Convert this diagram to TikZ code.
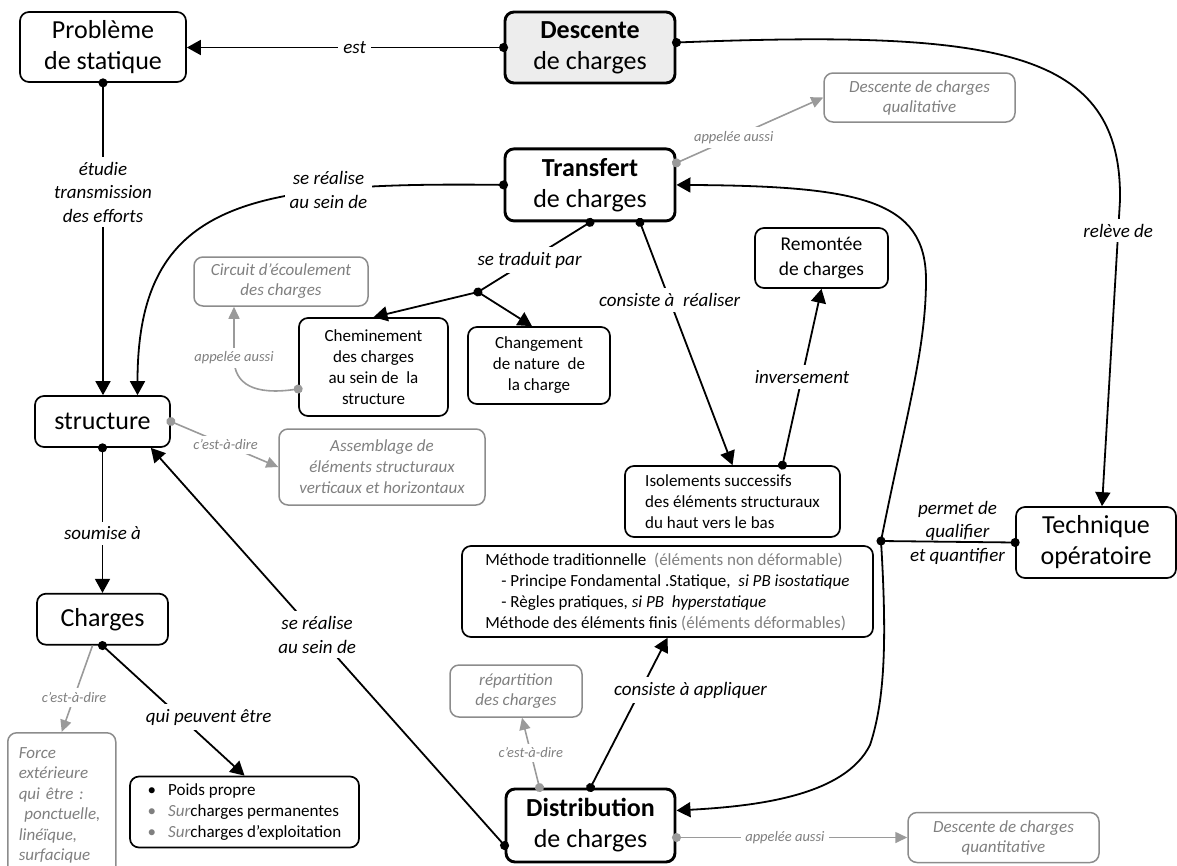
\documentclass[tikz,border=0pt]{standalone}
\usepackage{fontspec}
\setmainfont{Carlito}
\usepackage{xcolor}
\usetikzlibrary{arrows.meta,positioning}

\definecolor{txtgrey}{HTML}{7F7F7F}
\definecolor{boxgrey}{HTML}{8C8C8C}
\definecolor{arrgrey}{HTML}{9A9A9A}
\definecolor{keyfill}{HTML}{EDEDED}

\tikzset{
  >={Triangle[length=14pt,width=15pt]},
  box/.style={draw, rounded corners=9pt, line width=1.7pt, align=center,
    inner sep=2pt, font=\fontsize{17}{21}\selectfont},
  bigbox/.style={box, font=\fontsize{26}{31}\selectfont},
  keybox/.style={bigbox, line width=2.9pt},
  greybox/.style={box, draw=boxgrey, text=txtgrey, line width=1.5pt,
    font=\itshape\fontsize{17}{20}\selectfont},
  lbl/.style={fill=white, inner sep=5pt, align=center,
    font=\itshape\fontsize{19}{23.5}\selectfont},
  glbl/.style={lbl, inner sep=4pt, text=txtgrey,
    font=\itshape\fontsize{14.5}{17}\selectfont},
  conn/.style={line width=1.8pt, ->},
  link/.style={conn, {Circle[length=9pt]}->, shorten <=-4.5pt},
  bond/.style={conn, {Circle[length=9pt]}-{Circle[length=9pt]},
    shorten <=-4.5pt, shorten >=-4.5pt},
  gconn/.style={line width=1.6pt, color=arrgrey,
    -{Triangle[length=12pt,width=11pt]}},
  glink/.style={gconn, {Circle[length=9pt]}-{Triangle[length=12pt,width=11pt]},
    shorten <=-4.5pt}
}

\begin{document}
\begin{tikzpicture}[x=1pt,y=-1pt]
  \useasboundingbox (0,0) rectangle (1177,865);

  \node[bigbox, minimum width=166pt, minimum height=70pt]            (prob) at (103,47)
  {Problème\\de statique};
  \node[keybox, fill=keyfill, minimum width=170pt, minimum height=71pt] (desc) at (590,47.5)
  {\textbf{Descente}\\de charges};
  \node[keybox, below=63pt of desc, minimum width=170pt, minimum height=72pt] (transf)
  {\textbf{Transfert}\\de charges};
  \node[greybox, minimum width=191pt, minimum height=49pt]          (qual) at (919.5,97.5)
  {Descente de charges\\qualitative};
  \node[box, font=\fontsize{19.5}{25}\selectfont, minimum width=133pt, minimum height=60pt] (remont) at (821.5,258)
  {Remontée\\de charges};
  \node[greybox, minimum width=174pt, minimum height=49pt]          (circuit) at (281,281.5)
  {Circuit d’écoulement\\des charges};
  \node[box, minimum width=149pt, minimum height=98pt]              (chemin) at (373.5,367)
  {Cheminement\\des charges\\au sein de\ \ la\\structure};
  \node[box, minimum width=142pt, minimum height=77pt]              (changt) at (539,365.5)
  {Changement\\de nature\ \ de\\la charge};
  \node[bigbox, minimum width=135pt, minimum height=51pt]           (struct) at (102.5,421.5)
  {structure};
  \node[greybox, font=\itshape\fontsize{17}{21}\selectfont, minimum width=206pt, minimum height=76pt] (assembl) at (382,467)
  {Assemblage de\\éléments structuraux\\verticaux et horizontaux};
  \node[box, align=left, minimum width=215pt, minimum height=71pt]  (isol) at (732.5,501.5)
  {Isolements successifs\\des éléments structuraux\\du haut vers le bas};
  \node[bigbox, minimum width=160pt, minimum height=71pt]           (tech) at (1096,542.5)
  {Technique\\opératoire};
  \node[box, align=left, minimum width=411pt, minimum height=91pt]  (meth) at (667.5,591.5)
  {Méthode traditionnelle\ \ {\color{txtgrey}(éléments non déformable)}\\
   \hspace*{16pt}- Principe Fondamental .Statique,\ \ \textit{si PB isostatique}\\
   \hspace*{16pt}- Règles pratiques, \textit{si PB\ \ hyperstatique}\\
   Méthode des éléments finis {\color{txtgrey}(éléments déformables)}};
  \node[bigbox, below=145pt of struct, minimum width=131pt, minimum height=51pt] (charges)
  {Charges};
  \node[greybox, anchor=north west, align=left, text width=86pt, inner xsep=11pt,
        font=\itshape\fontsize{17}{20.5}\selectfont, minimum height=145pt] (force) at (7,732)
  {Force\\extérieure\\qui être :\\\ ponctuelle,\\linéïque,\\surfacique};
  \node[box, align=left, minimum width=229pt, minimum height=71pt]  (poids) at (244.5,812)
  {\textbullet\hspace{12pt}Poids propre\\
   {\color{txtgrey}\textbullet}\hspace{12pt}{\color{txtgrey}\itshape Sur}charges permanentes\\
   {\color{txtgrey}\textbullet}\hspace{12pt}{\color{txtgrey}\itshape Sur}charges d’exploitation};
  \node[greybox, minimum width=132pt, minimum height=52pt]          (repart) at (516,691)
  {répartition\\des charges};
  \node[keybox, minimum width=169pt, minimum height=73pt]           (distrib) at (590.5,825.5)
  {\textbf{Distribution}\\de charges};
  \node[greybox, minimum width=191pt, minimum height=50pt]          (quant) at (1003.5,837.5)
  {Descente de charges\\quantitative};

  \coordinate (fork)  at (478,292);
  \coordinate (fork2) at (881,541);

  \draw[link] (desc.west) -- node[lbl, pos=0.47] (l-est) {est}
  (prob.east |- desc.west);
  \draw[link] ([yshift=5pt]desc.east) .. controls (1000,30) and (1122,50) .. (1120,200)
  -- node[lbl, pos=0.1] (l-releve) {relève de} ([xshift=6pt]tech.north);
  \draw[link] (prob.south) -- node[lbl, pos=0.35] (l-etudie) {étudie\\transmission\\des efforts}
  (prob.south |- struct.north);
  \draw[link] (transf.west) .. controls (250,182) and (137.5,200) .. node[lbl, pos=0.27] (l-sein1) {se réalise\\au sein de}
  ([xshift=35pt]struct.north);
  \draw[glink] ([yshift=22pt]transf.east) -- node[glbl, pos=0.39] (l-app1) {appelée aussi}
  (qual.west);
  \draw[bond] (transf.south) -- node[lbl, pos=0.54] (l-traduit) {se traduit par}
  (fork);
  \draw[conn] (fork) -- (chemin.north);
  \draw[conn] (fork) -- ([xshift=-7pt]changt.north);
  \draw[link] ([xshift=50pt]transf.south) -- node[lbl, pos=0.32] (l-realiser) {consiste à\ \ réaliser}
  (isol.north);
  \draw[link] ([xshift=50pt]isol.north) -- node[lbl, pos=0.5] (l-inverse) {inversement}
  (remont.south);
  \draw[glink] ([yshift=-22pt]chemin.west) .. controls (255,395) and (234,385) .. (234,358)
  node[glbl] (l-app2) {appelée aussi} -- ([xshift=-47pt]circuit.south);
  \draw[glink] (struct.east) -- node[glbl, pos=0.51] (l-cad1) {c’est-à-dire}
  (assembl.west);
  \draw[link] (struct.south) -- node[lbl, pos=0.59] (l-soumise) {soumise à}
  (charges.north);
  \draw[link] ([yshift=-20pt]distrib.west) -- node[lbl, pos=0.53] (l-sein2) {se réalise\\au sein de}
  ([xshift=-20pt]struct.south east);
  \draw[link] (charges.south) -- node[lbl, pos=0.55, xshift=28pt] (l-peuvent) {qui peuvent être}
  (poids.north);
  \draw[gconn] ([xshift=-10pt]charges.south) -- node[glbl, pos=0.6] (l-cad2) {c’est-à-dire}
  (force.north);
  \draw[link] (distrib.north) -- node[lbl, pos=0.65, xshift=50pt] (l-appliquer) {consiste à appliquer}
  (meth.south);
  \draw[glink] ([xshift=-51pt]distrib.north) -- node[glbl, pos=0.5] (l-cad3) {c’est-à-dire}
  ([xshift=6pt]repart.south);
  \draw[glink] ([yshift=-12pt]distrib.east) -- node[glbl, pos=0.47] (l-app3) {appelée aussi}
  (quant.west);
  \draw[bond] (tech.west) -- node[lbl, fill=none, pos=0.43, yshift=9pt] (l-permet) {permet de\\qualifier\\et quantifier}
  (fork2);
  \draw[conn] (fork2) .. controls (905,420) and (926,350) .. (926,280)
  .. controls (926,200) and (860,186) .. (transf.east);
  \draw[conn] (fork2) .. controls (887,640) and (885,700) .. (870,745)
  .. controls (845,795) and (760,806) .. ([yshift=15pt]distrib.east);
\end{tikzpicture}
\end{document}
